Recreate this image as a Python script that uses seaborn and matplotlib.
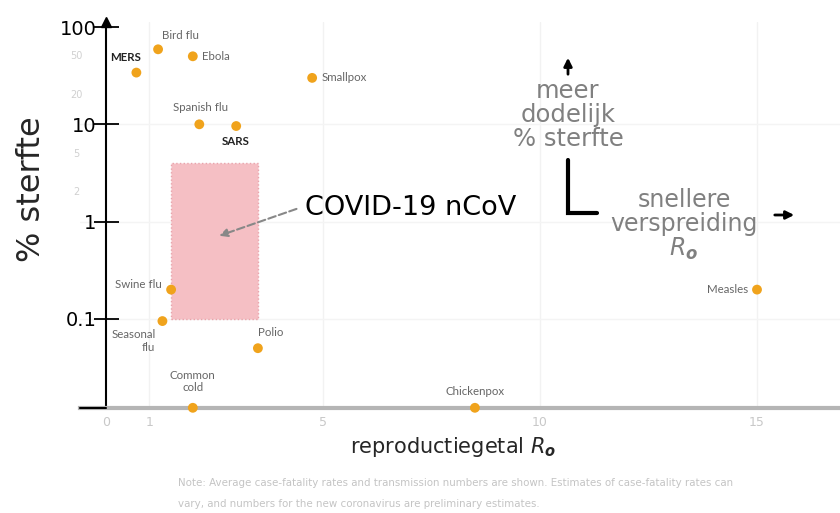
import matplotlib
matplotlib.use("Agg")
import matplotlib.pyplot as plt
import seaborn as sns
import pandas as pd
from matplotlib.patches import Rectangle

# ---- data ----
diseases = ["MERS", "Bird flu", "Ebola", "Smallpox", "Spanish flu", "SARS",
            "Swine flu", "Seasonal\nflu", "Polio", "Common\ncold", "Chickenpox", "Measles"]
r0_values = [0.7, 1.2, 2.0, 4.75, 2.15, 3.0, 1.5, 1.3, 3.5, 2.0, 8.5, 15.0]
fatality_pct = [34, 59, 50, 30, 10, 9.6, 0.2, 0.095, 0.05, 0.0122, 0.0122, 0.2]
covid_r0 = [1.5, 3.5]
covid_fatality = [0.1, 4.0]
x_ticks = [0, 1, 5, 10, 15]
y_ticks = [0.1, 1, 10, 100]
y_tick_labels = ["0.1", "1", "10", "100"]
faint_y_ticks = [50, 20, 5, 2]

df = pd.DataFrame({"disease": diseases, "r0": r0_values, "cfr": fatality_pct})

sns.set_theme(style="white")
plt.rcParams["font.family"] = ["DejaVu Sans"]

W, H = 840, 513
fig = plt.figure(figsize=(8.4, 5.13), dpi=100)
px_per_unit = 43.4
x_left = -0.6
ax_left_px = 106 + x_left * px_per_unit
ax_top_px, ax_bot_px = 22, 408
ax = fig.add_axes([ax_left_px / W, (H - ax_bot_px) / H, (W - ax_left_px) / W, (ax_bot_px - ax_top_px) / H])

ax.set_yscale("log")
ax.set_xlim(x_left, (W - 106) / px_per_unit)
dec = 97.3
ax.set_ylim(10 ** (2 - (ax_bot_px - 27) / dec), 10 ** (2 + (27 - ax_top_px) / dec))

# faint grid
for xv in x_ticks[1:]:
    ax.axvline(xv, color="#f2f2f2", lw=1, zorder=0)
for yv in [10, 1, 0.1]:
    ax.axhline(yv, color="#f4f4f4", lw=1, zorder=0)

# covid box
ax.add_patch(Rectangle((covid_r0[0], covid_fatality[0]), covid_r0[1] - covid_r0[0],
                       covid_fatality[1] - covid_fatality[0], facecolor="#f5bfc4",
                       edgecolor="#e9a3ab", lw=1, ls=":", zorder=1))

sns.scatterplot(data=df, x="r0", y="cfr", ax=ax, color="#f0a31c", s=50,
                edgecolor="none", zorder=5, clip_on=False, legend=False)

# point labels: (dx, dy) in pixels, ha, bold
label_style = {
    "MERS": (-11, 15, "center", True),
    "Bird flu": (4, 14, "left", False),
    "Ebola": (9, 0, "left", False),
    "Smallpox": (9, 0, "left", False),
    "Spanish flu": (1, 17, "center", False),
    "SARS": (0, -15, "center", True),
    "Swine flu": (-9, 5, "right", False),
    "Seasonal\nflu": (-7, -20, "right", False),
    "Polio": (0, 16, "left", False),
    "Common\ncold": (0, 26, "center", False),
    "Chickenpox": (0, 16, "center", False),
    "Measles": (-9, 0, "right", False),
}
for _, row in df.iterrows():
    dx, dy, ha, bold = label_style[row.disease]
    ax.annotate(row.disease, (row.r0, row.cfr), xytext=(dx, dy), textcoords="offset pixels",
                ha=ha, va="center", fontsize=8.3, family="Lato",
                color="#222222" if bold else "#666666",
                fontweight="bold" if bold else "normal", linespacing=1.15, zorder=6)

# axes styling
for s in ["top", "right"]:
    ax.spines[s].set_visible(False)
ax.spines["left"].set_position(("data", 0))
ax.spines["left"].set_color("black")
ax.spines["left"].set_linewidth(1.5)
ax.spines["bottom"].set_color("#b5b5b5")
ax.spines["bottom"].set_linewidth(3)
ax.axhline(ax.get_ylim()[0], xmin=0, xmax=(0 - x_left) / (ax.get_xlim()[1] - x_left),
           color="black", lw=1.5, clip_on=False, zorder=7)
ax.plot(0, 1, marker="^", color="black", markersize=7, transform=ax.get_xaxis_transform(),
        clip_on=False)

ax.set_yticks(y_ticks)
ax.set_yticklabels(y_tick_labels)
ax.yaxis.set_minor_locator(matplotlib.ticker.NullLocator())
ax.tick_params(axis="y", which="major", direction="inout", length=18, width=1.3,
               labelsize=14, colors="black", pad=-2, left=True)
ax.set_xticks(x_ticks)
ax.tick_params(axis="x", length=0, labelsize=9, labelcolor="#c8c8c8", pad=6)
ax.set_xlabel("")
ax.set_ylabel("")

ytrans = matplotlib.transforms.blended_transform_factory(fig.transFigure, ax.transData)
for v in faint_y_ticks:
    ax.text(76 / W, v, str(v), transform=ytrans, ha="center", va="center",
            fontsize=7, color="#d0d0d0")

# annotations
ax.annotate("", xy=(2.55, 0.70), xytext=(4.45, 1.38),
            arrowprops=dict(arrowstyle="-|>", color="#888888", lw=1.5, ls="--"))
ax.text(4.58, 1.38, "COVID-19 nCoV", fontsize=19.5, color="black", va="center", ha="left")

xm = (568 - 106) / px_per_unit
ax.annotate("", xy=(xm, 10 ** (2 - 28 / dec)), xytext=(xm, 10 ** (2 - 50 / dec)),
            arrowprops=dict(arrowstyle="-|>", color="black", lw=2, mutation_scale=12))
ax.text(xm, 10 ** (2 - 88 / dec), "meer\ndodelijk\n% sterfte", ha="center", va="center",
        fontsize=17.5, color="#808080", linespacing=1.02)
ax.plot([xm, xm, (597 - 106) / px_per_unit], [10 ** (2 - 133 / dec), 10 ** (2 - 186 / dec),
        10 ** (2 - 186 / dec)], color="black", lw=3, solid_joinstyle="miter")
ax.text((684 - 106) / px_per_unit, 10 ** (2 - 198 / dec),
        "snellere\nverspreiding\n$R_\\mathbfit{o}$", ha="center", va="center",
        fontsize=17, color="#808080", linespacing=1.02)
ax.annotate("", xy=((797 - 106) / px_per_unit, 10 ** (2 - 188 / dec)),
            xytext=((772 - 106) / px_per_unit, 10 ** (2 - 188 / dec)),
            arrowprops=dict(arrowstyle="-|>", color="black", lw=2, mutation_scale=12),
            annotation_clip=False)

fig.text(32 / W, 1 - 189 / H, "% sterfte", rotation=90, ha="center", va="center", fontsize=23)
fig.text(453 / W, 1 - 447 / H, "reproductiegetal $R_\\mathbfit{o}$", ha="center", va="center",
         fontsize=15)
fig.text(178 / W, 1 - 483 / H,
         "Note: Average case-fatality rates and transmission numbers are shown. Estimates of case-fatality rates can",
         fontsize=7.4, color="#c4c4c4", va="center", family="Liberation Sans Narrow")
fig.text(178 / W, 1 - 504 / H,
         "vary, and numbers for the new coronavirus are preliminary estimates.",
         fontsize=7.4, color="#c4c4c4", va="center", family="Liberation Sans Narrow")

fig.savefig("out.png", dpi=100)
